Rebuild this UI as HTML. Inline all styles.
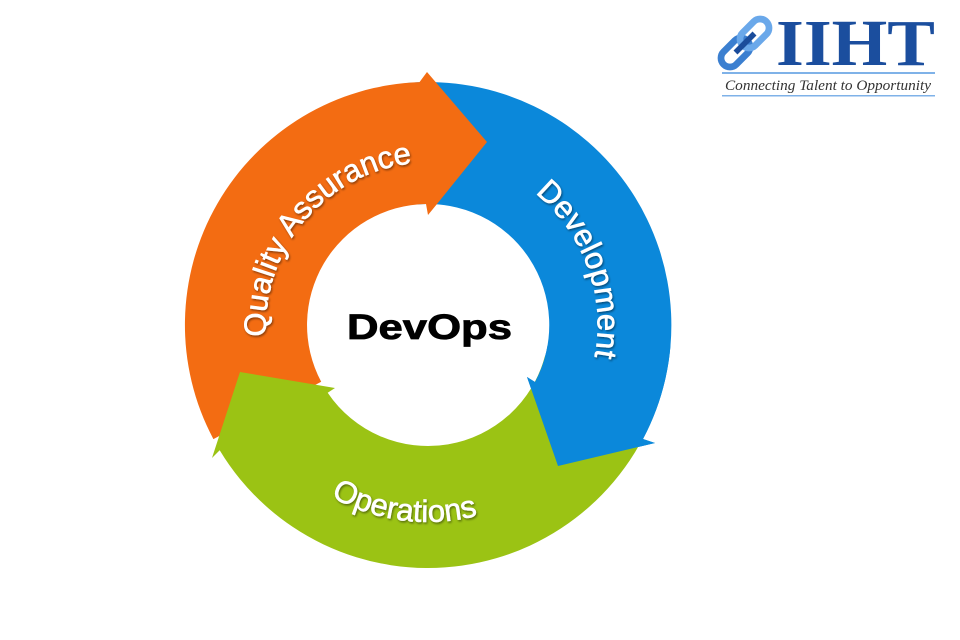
<!DOCTYPE html>
<html><head><meta charset="utf-8"><style>
html,body{margin:0;padding:0;background:#fff;width:960px;height:640px;overflow:hidden}
svg{display:block}
</style></head><body>
<svg width="960" height="640" viewBox="0 0 960 640" xmlns="http://www.w3.org/2000/svg">
<defs>
<clipPath id="cb"><rect x="505" y="345" width="200" height="140"/></clipPath>
<filter id="sh" x="-10%" y="-10%" width="120%" height="120%"><feDropShadow dx="1" dy="1.5" stdDeviation="1" flood-color="#000" flood-opacity="0.45"/></filter>
<path id="pqa" d="M333,460 A165,165 0 1 1 545,208" fill="none"/>
<path id="pdev" d="M457.5,157.6 A170,170 0 0 1 558,434" fill="none"/>
<path id="pops" d="M277,452 A197,197 0 0 0 541,486" fill="none"/>
</defs>
<path d="M407,83 A243,243 0 0 1 643,439 L655,443 L558,466 L527,377 L535,382 A121,121 0 0 0 417.5,204.5 Z" fill="#0B88DA"/>
<path d="M213.4,439.1 A243,243 0 0 1 419.5,82.1 L427,72 L487,142 L437,204 L428,215 L426,204 A121,121 0 0 0 321.2,381.8 Z" fill="#F36C12"/>
<path d="M662.7,387.9 A243,243 0 0 1 219.7,450.2 L212,458 L240,372 L335,388 L327.7,392.7 A121,121 0 0 0 544.9,356.3 Z" fill="#9BC314"/>
<path d="M407,83 A243,243 0 0 1 643,439 L655,443 L558,466 L527,377 L535,382 A121,121 0 0 0 417.5,204.5 Z" fill="#0B88DA" clip-path="url(#cb)"/>
<g font-family="Liberation Sans, sans-serif" fill="#fff" stroke="#fff" stroke-width="0.6" filter="url(#sh)">
<text font-size="31"><textPath href="#pqa" startOffset="50%" text-anchor="middle">Quality Assurance</textPath></text>
<text font-size="31"><textPath href="#pdev" startOffset="50%" text-anchor="middle">Development</textPath></text>
<text font-size="31"><textPath href="#pops" startOffset="50%" text-anchor="middle">Operations</textPath></text>
</g>
<text x="347" y="339" font-family="Liberation Sans, sans-serif" font-weight="bold" font-size="35" stroke="#000" stroke-width="0.8" textLength="165" lengthAdjust="spacingAndGlyphs" fill="#000">DevOps</text>
<g transform="translate(745,43) rotate(-45) scale(1.12)">
<rect x="-27" y="-8" width="30" height="16" rx="8" fill="none" stroke="#3b7fd0" stroke-width="6"/>
<rect x="-3" y="-8" width="30" height="16" rx="8" fill="none" stroke="#6aa8ea" stroke-width="6"/>
<rect x="-12" y="-2.5" width="24" height="5" fill="#1a4c9b"/>
</g>
<text x="776" y="65" font-family="Liberation Serif, serif" font-weight="bold" font-size="66" fill="#1b4e9e" textLength="159" lengthAdjust="spacingAndGlyphs">IIHT</text>
<rect x="722" y="72" width="213" height="2" fill="#7fb2e8"/>
<text x="725" y="90" font-family="Liberation Serif, serif" font-style="italic" font-size="14.5" fill="#333" textLength="206" lengthAdjust="spacingAndGlyphs">Connecting Talent to Opportunity</text>
<rect x="722" y="95" width="213" height="1.5" fill="#7fb2e8"/>
</svg>
</body></html>
